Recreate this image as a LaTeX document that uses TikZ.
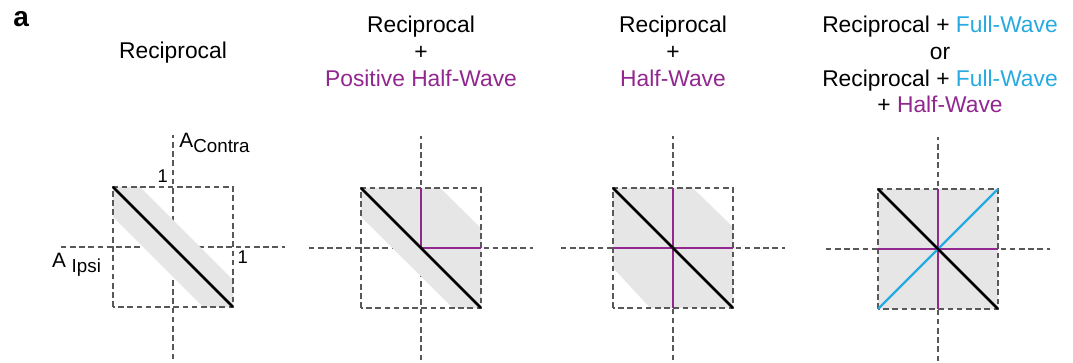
\documentclass[tikz,border=0pt]{standalone}
\usepackage{fontspec}
\setmainfont{Liberation Sans}
\usepackage{xcolor}
\usetikzlibrary{positioning}
\definecolor{hwpurple}{HTML}{92278F}
\definecolor{fwblue}{HTML}{27AAE1}
\definecolor{axgrey}{HTML}{585858}
\definecolor{shadegrey}{HTML}{E6E6E7}
\newcommand{\actlab}[2]{A\hspace{#2}{\fontsize{9.4}{9.4}\selectfont\raisebox{-2.2pt}{#1}}}

\begin{document}
\begin{tikzpicture}[
    x=1pt, y=1pt,
    title/.style={align=center, inner sep=0pt, anchor=base, font=\fontsize{11.4}{13.3}\selectfont},
    small/.style={inner sep=0pt, font=\fontsize{9.2}{9.2}\selectfont},
    axis/.style={draw=axgrey, line width=1.3pt, dash pattern=on 2.8pt off 1.8pt},
    shade/.style={fill=shadegrey, draw=none},
    recip/.style={draw=black, line width=1.3pt},
    halfwave/.style={draw=hwpurple, line width=1.2pt},
    fullwave/.style={draw=fwblue, line width=1.2pt},
    panel/.style={x=30pt, y=30pt}
]
    \useasboundingbox (0,0) rectangle (536.5,181.5);

    % panel label and titles (base = last line)
    \node[inner sep=0pt, anchor=base west, font=\fontsize{14}{14}\selectfont\bfseries] (lab) at (6.5,168) {a};
    \node[title] (t1) at (86.5,152.3) {Reciprocal};
    \node[title] (t2) at (210.5,138.4) {Reciprocal\\+\\\textcolor{hwpurple}{Positive Half-Wave}};
    \node[title] (t3) at (336.5,138.4) {Reciprocal\\+\\\textcolor{hwpurple}{Half-Wave}};
    \node[title] (t4) at (470,125.1) {Reciprocal + \textcolor{fwblue}{Full-Wave}\\or\\Reciprocal + \textcolor{fwblue}{Full-Wave}\\+ \textcolor{hwpurple}{Half-Wave}};

    % reciprocal
    \begin{scope}[shift={(86.5,58)}, panel]
        \draw[axis] (-1.87,0) -- (1.87,0);
        \draw[axis] (0,-1.87) -- (0,1.87);
        \fill[shade] (-1,1) -- (-0.55,1) -- (1,-0.55) -- (1,-1) -- (0.5,-1) -- (-1,0.5) -- cycle;
        \draw[axis] (-1,-1) rectangle (1,1);
        \draw[recip] (-1,1) -- (1,-1);
        \node[small, anchor=base west, font=\fontsize{10.4}{10.4}\selectfont] (acontra) at (0.1,1.65) {\actlab{Contra}{0pt}};
        \node[small, anchor=base west, font=\fontsize{10.4}{10.4}\selectfont] (aipsi) at (-2.02,-0.35) {\actlab{Ipsi}{2.8pt}};
        \node[small, anchor=base east] (one1) at (-0.08,1.08) {1};
        \node[small, anchor=base west] (one2) at (1.07,-0.27) {1};
    \end{scope}

    % reciprocal + positive half-wave
    \begin{scope}[shift={(210.5,57.5)}, panel]
        \draw[axis] (-1.87,0) -- (1.87,0);
        \draw[axis] (0,-1.87) -- (0,1.87);
        \fill[shade] (-1,1) -- (0.32,1) -- (1,0.33) -- (1,-1) -- (0.53,-1) -- (-1,0.52) -- cycle;
        \draw[axis] (-1,-1) rectangle (1,1);
        \draw[halfwave] (0,1) -- (0,0) -- (1,0);
        \draw[recip] (-1,1) -- (1,-1);
    \end{scope}

    % reciprocal + half-wave
    \begin{scope}[shift={(336.5,57.5)}, panel]
        \draw[axis] (-1.87,0) -- (1.87,0);
        \draw[axis] (0,-1.87) -- (0,1.87);
        \fill[shade] (-1,1) -- (0.33,1) -- (1,0.35) -- (1,-1) -- (-0.38,-1) -- (-1,-0.33) -- cycle;
        \draw[axis] (-1,-1) rectangle (1,1);
        \draw[halfwave] (-1,0) -- (1,0);
        \draw[halfwave] (0,-1) -- (0,1);
        \draw[recip] (-1,1) -- (1,-1);
    \end{scope}

    % reciprocal + full-wave (+ half-wave)
    \begin{scope}[shift={(469,57)}, panel]
        \draw[axis] (-1.87,0) -- (1.87,0);
        \draw[axis] (0,-1.87) -- (0,1.87);
        \fill[shade] (-1,-1) rectangle (1,1);
        \draw[axis] (-1,-1) rectangle (1,1);
        \draw[halfwave] (-1,0) -- (1,0);
        \draw[halfwave] (0,-1) -- (0,1);
        \draw[fullwave] (-1,-1) -- (1,1);
        \draw[recip] (-1,1) -- (1,-1);
    \end{scope}
\end{tikzpicture}
\end{document}
